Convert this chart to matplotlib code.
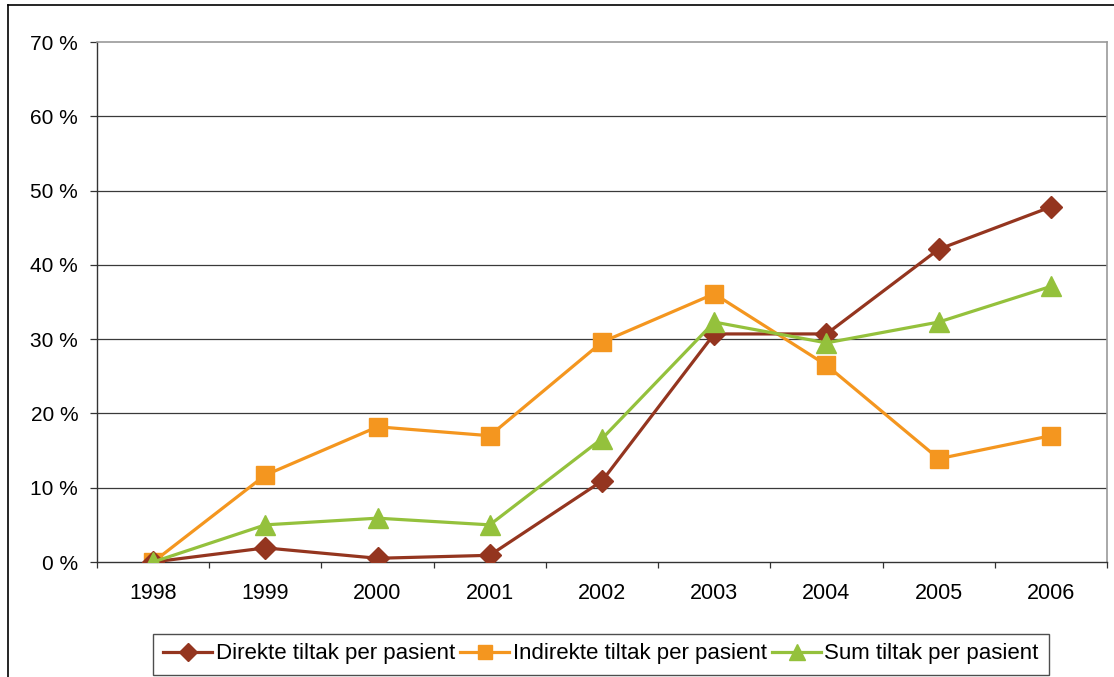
import matplotlib
matplotlib.use("Agg")
import matplotlib.pyplot as plt
from matplotlib.lines import Line2D
from matplotlib.ticker import FixedLocator, FuncFormatter

plt.rcParams["font.family"] = ["Liberation Sans", "DejaVu Sans"]

years = ["1998", "1999", "2000", "2001", "2002", "2003", "2004", "2005", "2006"]
direkte = [0.0, 1.9, 0.5, 0.9, 10.9, 30.7, 30.7, 42.1, 47.8]
indirekte = [0.0, 11.7, 18.2, 17.0, 29.6, 36.1, 26.5, 13.9, 17.0]
sum_tiltak = [0.0, 5.0, 5.9, 5.0, 16.6, 32.3, 29.5, 32.3, 37.1]
series_names = ["Direkte tiltak per pasient", "Indirekte tiltak per pasient", "Sum tiltak per pasient"]
y_ticks = [0, 10, 20, 30, 40, 50, 60, 70]

W, H = 1114, 677
fig = plt.figure(figsize=(W / 100, H / 100), dpi=100)
fig.patch.set_facecolor("white")

# outer chart frame (left and top edges visible)
fig.add_artist(Line2D([8 / W, 8 / W], [0, 1 - 5 / H], color="black", lw=1.2, transform=fig.transFigure))
fig.add_artist(Line2D([8 / W, 1.0], [1 - 5 / H, 1 - 5 / H], color="black", lw=1.2, transform=fig.transFigure))

left, right, top, bottom = 97, 1107, 42, 562
ax = fig.add_axes([left / W, 1 - bottom / H, (right - left) / W, (bottom - top) / H])

x = list(range(len(years)))
ax.plot(x, direkte, color="#94351F", lw=2.3, marker="D", ms=11, mec="#94351F", mfc="#94351F",
        label=series_names[0], zorder=4)
ax.plot(x, indirekte, color="#F4961F", lw=2.3, marker="s", ms=13, mec="#F4961F", mfc="#F4961F",
        label=series_names[1], zorder=3)
ax.plot(x, sum_tiltak, color="#94C13C", lw=2.3, marker="^", ms=14, mec="#94C13C", mfc="#94C13C",
        label=series_names[2], zorder=5)

ax.set_xlim(-0.5, len(years) - 0.5)
ax.set_ylim(0, 70)

# horizontal gridlines
for v in y_ticks[1:-1]:
    ax.axhline(v, color="#3a3a3a", lw=0.9, zorder=1)

ax.yaxis.set_major_locator(FixedLocator(y_ticks))
ax.yaxis.set_major_formatter(FuncFormatter(lambda v, p: f"{int(v)} %"))
ax.xaxis.set_major_locator(FixedLocator([i - 0.5 for i in range(len(years) + 1)]))
ax.xaxis.set_major_formatter(FuncFormatter(lambda v, p: ""))
ax.xaxis.set_minor_locator(FixedLocator(x))
ax.set_xticklabels(years, minor=True)

ax.tick_params(axis="y", direction="out", length=5, width=0.9, color="#333333",
               labelsize=15, pad=8.5)
ax.tick_params(axis="x", which="major", direction="out", length=4.5, width=0.9, color="#333333")
ax.tick_params(axis="x", which="minor", length=0, labelsize=15.5, pad=15)

for s in ("left", "bottom"):
    ax.spines[s].set_color("#333333")
    ax.spines[s].set_linewidth(1.0)
for s in ("top", "right"):
    ax.spines[s].set_color("#999999")
    ax.spines[s].set_linewidth(1.2)

leg = fig.legend(loc="center", bbox_to_anchor=(601 / W, 1 - 654 / H), ncol=3,
                 fontsize=16, frameon=True, fancybox=False, edgecolor="#222222",
                 handlelength=2.2, handletextpad=0.15, columnspacing=0.25,
                 borderpad=0.45, markerscale=0.8)
leg.get_frame().set_linewidth(1.0)

fig.savefig("out.png", dpi=100)
